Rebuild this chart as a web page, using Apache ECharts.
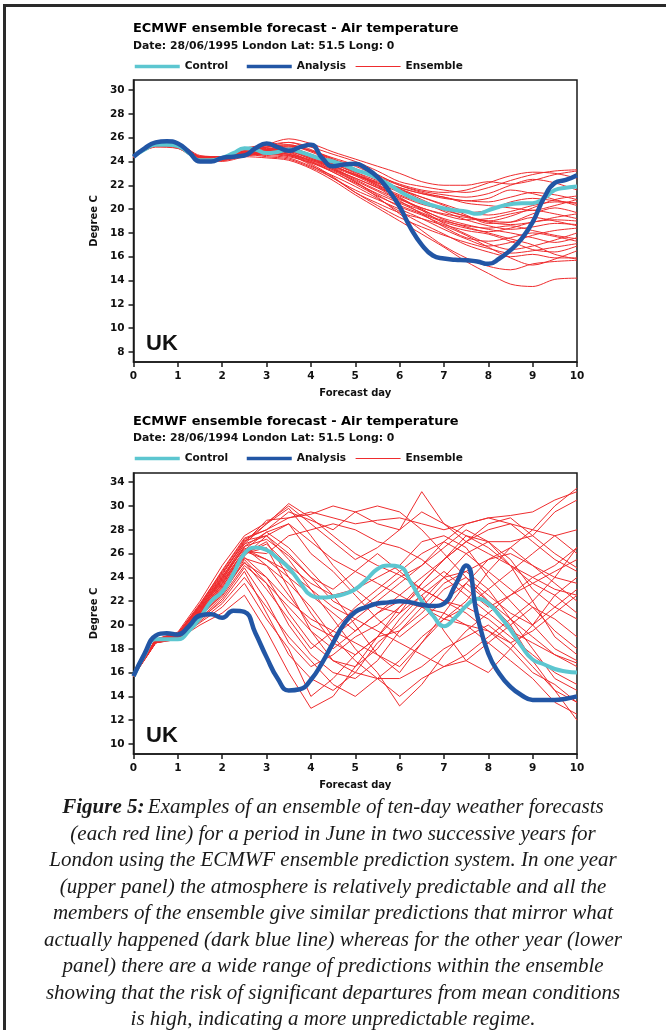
<!DOCTYPE html>
<html><head><meta charset="utf-8">
<script src="https://cdn.jsdelivr.net/npm/echarts@6/dist/echarts.min.js"></script>
<style>html,body{margin:0;padding:0;background:#fff}#c{width:666px;height:1030px}</style>
</head><body><div id="c"></div>
<script>
// ---------- DATA ----------
const daysQ = [0,0.25,0.5,0.75,1,1.25,1.5,1.75,2,2.25,2.5,2.75,3,3.25,3.5,3.75,4,4.25,4.5,4.75,5,5.25,5.5,5.75,6,6.25,6.5,6.75,7,7.25,7.5,7.75,8,8.25,8.5,8.75,9,9.25,9.5,9.75,10];
const daysH = [0,0.5,1,1.5,2,2.5,3,3.5,4,4.5,5,5.5,6,6.5,7,7.5,8,8.5,9,9.5,10];
const xTicks = [0,1,2,3,4,5,6,7,8,9,10];

// Upper panel (1995)
const topTicks = [8,10,12,14,16,18,20,22,24,26,28,30];
const topTickLabels = ['8','10','12','14','16','18','20','22','24','26','28','30'];
const topControl = [24.4,25.0,25.4,25.4,25.3,24.7,24.1,24.1,24.3,24.7,25.1,25.0,24.7,24.8,25.0,24.8,24.5,24.2,24.0,23.7,23.3,23.0,22.6,22.1,21.5,21.0,20.6,20.3,20.05,19.9,19.8,19.6,19.9,20.2,20.4,20.5,20.5,20.9,21.6,21.8,21.9];
const topAnalysis = [24.4,25.1,25.6,25.7,25.5,24.8,24.0,24.0,24.3,24.4,24.5,25.1,25.5,25.2,24.9,25.2,25.4,24.3,23.6,23.75,23.8,23.4,22.7,21.6,20.2,18.4,17.0,16.1,15.85,15.75,15.7,15.6,15.4,15.85,16.55,17.5,18.9,20.9,22.2,22.45,22.85];
const topEnsemble = [
[24.4,25.4,25.3,24.3,24.3,24.8,25.2,25.6,25.2,24.6,24.0,23.2,22.3,21.9,21.6,21.4,21.8,22.4,22.9,23.2,23.3],
[24.4,25.5,25.4,24.2,24.2,24.6,24.9,25.1,24.5,23.8,23.1,22.4,21.8,21.3,20.9,20.7,20.6,21.0,21.4,21.2,20.8],
[24.4,25.3,25.2,24.4,24.1,24.5,24.7,24.6,24.1,23.5,22.8,22.2,21.6,21.0,20.4,19.8,19.5,19.8,20.3,20.6,20.5],
[24.4,25.4,25.3,24.2,24.3,24.9,25.3,25.4,24.9,24.1,23.4,22.6,21.7,20.8,20.0,19.4,18.9,18.7,18.9,19.3,19.6],
[24.4,25.6,25.5,24.5,24.4,25.0,25.1,24.8,24.0,23.1,22.2,21.3,20.5,19.7,19.0,18.6,18.4,18.6,18.2,17.8,17.5],
[24.4,25.2,25.1,24.1,24.2,24.6,24.4,24.2,23.5,22.6,21.4,20.3,19.3,18.5,17.8,17.2,16.7,16.3,16.5,16.8,17.1],
[24.4,25.5,25.3,24.3,24.0,24.4,24.8,25.0,24.4,23.6,22.9,22.1,21.0,20.0,19.1,18.5,18.0,17.5,17.0,16.2,15.8],
[24.4,25.4,25.2,24.2,24.3,24.7,25.0,25.3,24.9,24.3,23.7,22.9,22.0,21.4,21.0,20.7,20.9,21.6,21.3,20.8,20.3],
[24.4,25.3,25.4,24.4,24.4,24.6,24.5,24.3,23.6,22.8,21.9,20.9,19.8,18.8,17.9,17.0,16.4,16.0,16.2,15.9,15.9],
[24.4,25.5,25.4,24.3,24.2,24.8,25.4,25.9,25.5,24.8,24.2,23.6,23.0,22.3,22.0,22.0,22.3,22.1,22.4,22.9,23.2],
[24.4,25.4,25.2,24.2,24.1,24.5,24.8,24.9,24.3,23.4,22.4,21.5,20.6,19.9,19.2,18.7,18.3,18.0,17.6,17.2,17.6],
[24.4,25.3,25.3,24.3,24.4,24.7,24.6,24.5,23.8,22.7,21.4,20.5,19.7,19.2,18.6,17.8,16.8,15.9,15.3,15.8,16.5],
[24.4,25.5,25.3,24.1,24.3,24.9,25.2,25.3,24.8,24.0,23.1,22.2,21.4,20.6,19.8,19.1,18.6,18.3,18.5,18.8,18.7],
[24.4,25.4,25.4,24.4,24.2,24.6,24.9,25.0,24.4,23.7,22.8,21.9,20.9,19.9,18.8,17.9,17.1,16.6,16.9,17.4,18.0],
[24.4,25.3,25.1,24.2,24.2,24.5,24.6,24.4,23.9,23.2,22.3,21.0,19.6,18.2,16.9,15.9,15.2,14.9,15.4,15.6,15.7],
[24.4,25.4,25.3,24.3,24.3,24.7,24.8,24.6,24.0,23.3,22.6,21.8,21.1,20.4,20.0,19.7,19.9,20.6,20.9,20.7,20.5],
[24.4,25.5,25.4,24.4,24.4,25.1,25.4,25.6,25.0,24.2,23.4,22.5,21.8,21.3,21.0,20.5,20.3,20.1,19.9,20.3,20.8],
[24.4,25.3,25.2,24.1,24.1,24.4,24.3,24.1,23.4,22.4,21.2,20.1,19.0,17.9,16.8,15.6,14.6,13.7,13.5,14.1,14.2],
[24.4,25.4,25.3,24.3,24.2,24.7,25.0,25.1,24.6,23.9,23.3,22.7,22.0,21.5,21.2,21.0,21.3,22.0,22.5,22.2,21.6],
[24.4,25.5,25.4,24.2,24.3,24.8,25.1,25.2,24.5,23.5,22.5,21.6,20.8,20.1,19.5,19.1,19.2,19.6,19.9,19.6,19.2],
[24.4,25.4,25.2,24.4,24.4,24.6,24.7,24.8,24.2,23.6,22.9,22.3,21.7,21.0,20.3,19.5,18.8,18.9,19.6,20.1,19.7],
[24.4,25.3,25.3,24.3,24.2,24.5,24.6,24.5,23.7,22.6,21.6,20.8,20.0,19.2,18.3,17.5,16.9,17.2,17.8,18.2,18.4],
[24.4,25.6,25.5,24.4,24.4,24.9,25.2,25.4,24.9,24.2,23.6,22.8,22.1,21.6,21.4,21.6,22.2,22.8,23.1,23.0,22.6],
[24.4,25.4,25.3,24.2,24.1,24.6,24.9,24.7,24.1,23.3,22.3,21.2,20.2,19.5,18.7,18.2,17.9,17.3,16.6,16.4,16.9],
[24.4,25.4,25.3,24.3,24.3,24.7,24.9,25.1,24.6,23.8,23.0,22.0,20.9,20.1,19.6,19.3,19.0,19.4,20.1,20.8,21.1],
[24.4,25.3,25.2,24.2,24.2,24.5,24.7,24.8,24.2,23.4,22.6,21.8,20.7,19.6,18.5,17.6,17.3,17.6,18.0,17.7,17.3],
[24.4,25.5,25.4,24.3,24.3,24.8,25.0,24.9,24.3,23.6,22.9,22.0,21.2,20.5,19.9,19.4,19.0,18.9,19.3,19.0,18.6],
[24.4,25.4,25.2,24.3,24.2,24.6,24.8,24.6,23.9,23.1,22.1,21.1,20.3,19.6,18.9,18.4,18.1,18.4,18.9,19.1,19.0]
];

// Lower panel (1994)
const botTicks = [10,12,14,16,18,20,22,24,26,28,30,32];
const botTickLabels = ['10','12','14','16','18','20','22','24','26','28','30','34'];
const botControl = [15.7,17.5,18.8,18.8,18.8,19.5,20.6,22.0,22.8,24.3,26.0,26.5,26.3,25.6,24.8,23.6,22.5,22.3,22.4,22.6,23.0,23.8,24.7,25.0,24.9,23.6,22.0,20.8,19.9,20.6,21.6,22.2,21.8,20.8,19.6,18.2,17.1,16.7,16.3,16.1,16.0];
const botAnalysis = [15.7,17.6,19.1,19.3,19.2,19.9,20.8,20.9,20.6,21.2,21.1,19.3,17.3,15.5,14.5,14.6,15.4,16.8,18.5,20.1,21.1,21.5,21.8,21.9,22.0,21.9,21.7,21.6,21.8,23.3,25.0,20.8,17.6,15.9,14.8,14.1,13.7,13.7,13.7,13.8,14.0];
const botEnsemble = [
[15.7,18.7,19.2,21.5,24.0,26.8,28.5,30.2,29.0,27.5,26.0,25.0,24.2,23.0,22.0,21.5,23.0,24.5,26.0,27.5,28.0],
[15.7,18.6,19.0,21.0,23.5,26.0,27.0,24.0,21.0,18.5,17.5,19.0,21.0,22.5,24.0,26.0,27.0,25.0,22.0,19.0,17.5],
[15.7,18.8,19.3,21.8,24.5,27.2,28.0,29.5,28.8,28.0,29.5,30.0,29.5,28.0,26.0,24.0,22.5,21.0,20.0,21.5,23.0],
[15.7,18.5,18.9,20.5,22.0,24.5,21.0,17.5,15.5,14.5,16.0,18.5,20.0,22.0,24.0,22.5,21.0,19.5,18.5,17.5,16.8],
[15.7,18.7,19.1,21.2,23.8,26.5,25.0,22.5,20.0,19.0,20.5,22.0,23.5,25.0,27.0,28.5,29.0,28.5,28.0,30.0,31.5],
[15.7,18.6,19.0,20.8,22.5,25.5,23.5,20.0,17.5,16.0,15.5,17.0,19.5,21.5,23.5,24.5,23.0,20.5,18.0,15.5,14.5],
[15.7,18.8,19.2,21.6,24.2,27.0,28.5,29.8,27.5,25.0,23.0,21.5,21.0,23.5,25.5,27.0,28.0,28.5,27.0,25.5,24.5],
[15.7,18.5,19.0,20.6,22.8,25.8,27.5,25.5,23.0,20.5,18.0,16.0,13.2,15.0,17.5,19.5,21.0,22.5,23.5,24.5,25.5],
[15.7,18.7,19.1,21.3,23.6,26.3,27.8,26.5,24.5,22.5,20.0,17.5,16.5,18.5,21.0,23.5,25.5,26.5,25.0,23.5,22.0],
[15.7,18.6,18.9,20.2,21.5,23.5,20.5,18.0,14.0,15.5,17.5,19.0,19.5,21.0,23.0,24.0,22.0,20.0,17.0,14.5,12.0],
[15.7,18.8,19.3,21.7,24.4,26.9,28.8,29.0,29.3,30.0,29.5,28.5,28.0,29.5,28.5,27.5,27.0,27.0,27.5,29.5,30.5],
[15.7,18.6,19.1,21.1,23.2,26.0,26.5,23.0,19.5,17.0,16.5,18.0,20.5,22.5,19.5,17.0,16.0,18.0,20.0,22.5,24.0],
[15.7,18.7,19.2,21.4,23.9,26.6,27.2,25.8,24.0,23.0,24.5,26.0,24.5,23.0,22.0,23.5,22.0,20.5,19.0,17.5,16.5],
[15.7,18.5,18.8,20.0,21.0,22.5,19.5,16.0,13.0,14.0,16.5,19.0,21.5,23.5,25.5,27.5,26.5,25.0,23.5,22.5,21.0],
[15.7,18.7,19.1,21.3,24.0,26.8,27.5,28.5,26.0,24.5,22.5,20.5,19.0,20.5,22.0,21.0,19.5,18.0,16.0,15.0,13.5],
[15.7,18.6,19.0,20.9,23.0,25.2,24.0,22.0,20.5,19.5,18.5,17.5,16.0,18.5,20.5,22.0,24.5,26.5,28.0,27.5,26.0],
[15.7,18.8,19.4,22.0,25.0,27.5,28.6,30.0,28.5,27.0,25.5,26.5,28.0,31.2,28.5,27.0,26.0,25.0,24.0,23.0,22.5],
[15.7,18.5,18.9,20.4,22.2,24.8,22.0,18.5,16.5,17.5,19.0,20.0,21.5,23.0,24.5,23.0,21.5,22.5,24.0,25.0,26.5],
[15.7,18.7,19.2,21.5,24.1,26.4,25.5,24.0,22.5,21.0,19.5,21.0,22.5,24.0,25.5,27.0,28.5,29.0,27.5,26.0,24.8],
[15.7,18.6,19.0,21.0,23.3,25.7,24.0,21.0,18.5,17.0,16.0,15.5,15.5,16.5,18.0,19.0,20.0,18.5,16.5,14.5,13.5],
[15.7,18.7,19.1,21.2,23.7,26.2,26.0,27.5,28.0,28.5,28.0,27.0,26.5,25.5,24.0,24.5,25.5,26.0,25.0,24.0,23.5],
[15.7,18.5,18.8,20.3,21.8,24.0,21.5,19.0,17.0,15.0,14.0,15.5,17.0,19.0,20.5,21.5,20.5,19.0,17.5,16.0,15.0],
[15.7,18.8,19.3,21.6,24.3,27.1,27.5,26.0,24.0,22.0,21.0,22.5,24.0,25.0,26.5,28.0,27.0,25.5,23.0,21.5,20.5],
[15.7,18.6,19.0,20.7,22.6,25.3,23.0,20.5,18.0,19.5,21.5,23.0,24.5,26.0,27.0,26.0,24.5,23.0,21.5,19.5,18.0],
[15.7,18.7,19.2,21.4,23.8,26.6,27.8,28.5,27.0,25.5,24.5,23.5,22.5,21.5,20.5,20.0,19.5,18.5,19.5,21.0,22.5],
[15.7,18.6,19.1,21.0,23.1,25.6,25.0,23.5,21.5,19.0,17.0,15.5,14.0,15.5,16.5,17.5,19.0,20.5,22.0,24.0,26.5],
[15.7,18.7,19.0,21.2,23.4,26.0,26.8,25.0,23.5,22.5,23.0,24.0,25.0,27.0,27.5,26.5,24.0,22.0,20.0,18.0,17.0],
[15.7,18.5,18.9,20.5,22.4,25.0,23.5,21.5,19.5,18.0,19.5,21.0,22.0,21.5,21.0,20.0,18.5,17.0,15.5,13.5,12.5],
[15.7,18.8,19.2,21.7,24.6,27.3,28.0,29.0,29.5,29.0,28.5,28.8,29.0,28.5,28.0,28.5,29.0,29.2,29.5,30.5,31.2],
[15.7,18.6,19.0,21.1,23.5,26.2,25.5,24.5,23.0,21.5,20.5,19.5,18.5,17.5,16.5,17.0,18.5,20.0,21.5,20.5,19.0]
];

const panelTitle = 'ECMWF ensemble forecast - Air temperature';
const topSubtitle = 'Date: 28/06/1995 London Lat: 51.5 Long: 0';
const botSubtitle = 'Date: 28/06/1994 London Lat: 51.5 Long: 0';
const captionLines = [
  'Examples of an ensemble of ten-day weather forecasts',
  '(each red line) for a period in June in two successive years for',
  'London using the ECMWF ensemble prediction system. In one year',
  '(upper panel) the atmosphere is relatively predictable and all the',
  'members of the ensemble give similar predictions that mirror what',
  'actually happened (dark blue line) whereas for the other year (lower',
  'panel) there are a wide range of predictions within the ensemble',
  'showing that the risk of significant departures from mean conditions',
  'is high, indicating a more unpredictable regime.'
];

// ---------- STYLE ----------
const C_CTRL = '#5cc6d0', C_ANA = '#2256a5', C_ENS = '#ee2c2e', C_AX = '#1a1a1a';
const SANS = '"Liberation Sans", Arial, sans-serif';
const HEAVY = '"DejaVu Sans", Verdana, sans-serif';

const chart = echarts.init(document.getElementById('c'), null, {renderer: 'canvas'});

const pair = (xs, ys) => xs.map((x, i) => [x, ys[i]]);

function xAxisCfg(gi) {
  return {
    type: 'value', gridIndex: gi, min: 0, max: 10, interval: 1,
    name: 'Forecast day', nameLocation: 'middle', nameGap: 26,
    nameTextStyle: {fontFamily: HEAVY, fontWeight: 'bold', fontSize: 10, color: '#111'},
    axisLine: {show: true, lineStyle: {color: C_AX, width: 1.5}},
    axisTick: {show: true, inside: false, length: 5, lineStyle: {color: C_AX, width: 1.5}, customValues: xTicks},
    axisLabel: {fontFamily: HEAVY, fontWeight: 'bold', fontSize: 10.5, color: '#111', margin: 9, customValues: xTicks},
    splitLine: {show: false}
  };
}
function yAxisCfg(gi, mn, mx, ticks, labels) {
  return {
    type: 'value', gridIndex: gi, min: mn, max: mx,
    name: 'Degree C', nameLocation: 'middle', nameGap: 27, nameRotate: 90,
    nameTextStyle: {fontFamily: HEAVY, fontWeight: 'bold', fontSize: 10, color: '#111'},
    axisLine: {show: true, lineStyle: {color: C_AX, width: 1.5}},
    axisTick: {show: true, inside: false, length: 5, lineStyle: {color: C_AX, width: 1.5}, customValues: ticks},
    axisLabel: {fontFamily: HEAVY, fontWeight: 'bold', fontSize: 10.5, color: '#111', margin: 9, customValues: ticks,
      formatter: v => { const i = ticks.indexOf(Math.round(v)); return i >= 0 ? labels[i] : ''; }},
    splitLine: {show: false}
  };
}

const series = [];
function addPanel(gi, ens, ctrl, ana, smoothEns) {
  ens.forEach(row => series.push({
    name: 'Ensemble', type: 'line', xAxisIndex: gi, yAxisIndex: gi,
    data: pair(daysH, row), symbol: 'none', smooth: smoothEns, silent: true, z: 2,
    lineStyle: {color: C_ENS, width: 1}, itemStyle: {color: C_ENS}
  }));
  series.push({name: 'Control', type: 'line', xAxisIndex: gi, yAxisIndex: gi,
    data: pair(daysQ, ctrl), symbol: 'none', smooth: 0.5, z: 3,
    lineStyle: {color: C_CTRL, width: 4}, itemStyle: {color: C_CTRL}});
  series.push({name: 'Analysis', type: 'line', xAxisIndex: gi, yAxisIndex: gi,
    data: pair(daysQ, ana), symbol: 'none', smooth: 0.5, z: 4,
    lineStyle: {color: C_ANA, width: 4.5}, itemStyle: {color: C_ANA}});
}
addPanel(0, topEnsemble, topControl, topAnalysis, 0.3);
addPanel(1, botEnsemble, botControl, botAnalysis, false);

function legendCfg(name, left, top, lw) {
  return {data: [name], left: left, top: top, padding: 0, itemWidth: 45, itemHeight: 12, itemGap: 5,
    selectedMode: false, itemStyle: {opacity: 0}, lineStyle: {width: lw},
    textStyle: {fontFamily: HEAVY, fontWeight: 'bold', fontSize: 10.5, color: '#111', padding: [0,0,0,0]}};
}

function headerTexts(yTitle, ySub, sub) {
  return [
    {type: 'text', left: 133, top: yTitle - 8, style: {text: panelTitle, font: 'bold 12.95px ' + HEAVY, fill: '#000'}},
    {type: 'text', left: 133, top: ySub - 6.5, style: {text: sub, font: 'bold 10.85px ' + HEAVY, fill: '#111'}}
  ];
}

const rich = {
  b: {fontFamily: '"Liberation Serif", "Times New Roman", serif', fontStyle: 'italic', fontWeight: 'bold', fontSize: 21, lineHeight: 26.5, fill: '#1a1a1a'},
  i: {fontFamily: '"Liberation Serif", "Times New Roman", serif', fontStyle: 'italic', fontSize: 21, lineHeight: 26.5, fill: '#1a1a1a'}
};
const captionText = captionLines.map((l, k) => k === 0 ? '{b|Figure 5:} {i|' + l + '}' : '{i|' + l + '}').join('\n');

chart.setOption({
  animation: false,
  backgroundColor: '#fff',
  grid: [
    {left: 133.5, top: 80, width: 443.5, height: 282, show: true, borderColor: C_AX, borderWidth: 1.5, backgroundColor: '#fff', containLabel: false},
    {left: 133.5, top: 473, width: 443.5, height: 281, show: true, borderColor: C_AX, borderWidth: 1.5, backgroundColor: '#fff', containLabel: false}
  ],
  xAxis: [xAxisCfg(0), xAxisCfg(1)],
  yAxis: [yAxisCfg(0, 7.16, 30.84, topTicks, topTickLabels), yAxisCfg(1, 9.16, 32.77, botTicks, botTickLabels)],
  legend: [
    legendCfg('Control', 133, 61, 3.5), legendCfg('Analysis', 245, 61, 3.5), legendCfg('Ensemble', 355, 61, 1.2),
    legendCfg('Control', 133, 453, 3.5), legendCfg('Analysis', 245, 453, 3.5), legendCfg('Ensemble', 355, 453, 1.2)
  ],
  series: series,
  graphic: [
    {type: 'polyline', shape: {points: [[4.5, 1030], [4.5, 5.5], [666, 5.5]]}, style: {stroke: '#2a2a2a', lineWidth: 3, fill: null}, z: 100},
    ...headerTexts(30.5, 47.5, topSubtitle),
    ...headerTexts(423, 439.5, botSubtitle),
    {type: 'text', left: 146, top: 333, style: {text: 'UK', font: 'bold 22px ' + SANS, fill: '#111'}, z: 50},
    {type: 'text', left: 146, top: 725, style: {text: 'UK', font: 'bold 22px ' + SANS, fill: '#111'}, z: 50},
    {type: 'text', x: 333, y: 794.5, style: {text: captionText, rich: rich, align: 'center', verticalAlign: 'top'}, z: 50}
  ]
});
</script></body></html>
